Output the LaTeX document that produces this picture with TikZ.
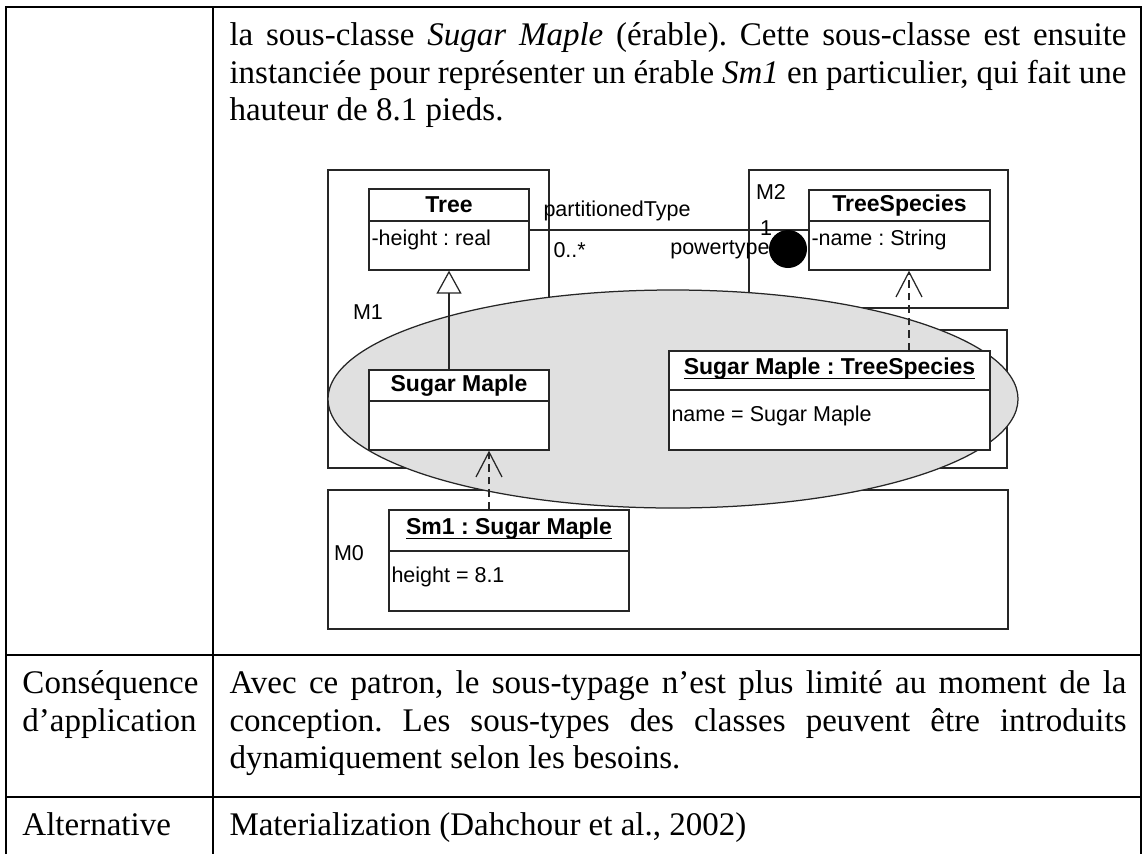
\documentclass[tikz,border=0pt]{standalone}
\usepackage{fontspec}
\setmainfont{Liberation Serif}
\newfontfamily\umlfont{Liberation Sans}
\usetikzlibrary{positioning, arrows.meta, fit}
\frenchspacing

\begin{document}
\begin{tikzpicture}
[
    x=0.4pt, y=-0.4pt,
    table_line/.style={draw=black, line width=0.9pt},
    cell_text/.style={anchor=base west, inner sep=0pt, font=\fontsize{13.2}{15}\selectfont},
    frame_box/.style={draw=black!85, line width=0.5pt},
    uml_box/.style={draw=black!85, fill=white, line width=0.5pt, inner sep=0pt},
    uml_text/.style={inner sep=0pt, font=\umlfont\fontsize{8.6}{10}\selectfont},
    uml_name/.style={inner sep=0pt, font=\umlfont\bfseries\fontsize{9.2}{10}\selectfont},
    uml_line/.style={draw=black!85, line width=0.5pt},
    inst_arrow/.style={uml_line, -{Straight Barb[length=10pt, width=10.4pt]}, dash pattern=on 3pt off 2pt},
]
    \useasboundingbox (0,0) rectangle (1146,854);

    % table
    \draw[table_line] (6,854) -- (6,7) -- (1141,7) -- (1141,854);
    \draw[table_line] (213,7) -- (213,854);
    \draw[table_line] (6,655) -- (1141,655);
    \draw[table_line] (6,797) -- (1141,797);

    \node[cell_text] (desc1) at (229,45.5) {\makebox[358.8pt][s]{la sous-classe \textit{Sugar Maple} (érable). Cette sous-classe est ensuite}};
    \node[cell_text] (desc2) at (229,83) {\makebox[358.8pt][s]{instanciée pour représenter un érable \textit{Sm1} en particulier, qui fait une}};
    \node[cell_text] (desc3) at (229,120.5) {hauteur de 8.1 pieds.};

    \node[cell_text] (csq1) at (22,693.5) {Conséquence};
    \node[cell_text] (csq2) at (22,731) {d’application};
    \node[cell_text] (avec1) at (229,693.5) {\makebox[358.8pt][s]{Avec ce patron, le sous-typage n’est plus limité au moment de la}};
    \node[cell_text] (avec2) at (229,731) {\makebox[358.8pt][s]{conception. Les sous-types des classes peuvent être introduits}};
    \node[cell_text] (avec3) at (229,768.5) {dynamiquement selon les besoins.};

    \node[cell_text] (alt) at (22,835.5) {Alternative};
    \node[cell_text] (mat) at (229,835.5) {Materialization (Dahchour et al., 2002)};

    % levels
    \draw[frame_box] (328,170) -- (549,170) -- (549,330) -- (1007,330) -- (1007,468) -- (328,468) -- cycle;
    \draw[frame_box] (749,170) rectangle (1008,308);
    \draw[frame_box] (328,490) rectangle (1008,629);
    \node[uml_text] (m1) at (368,312) {M1};
    \node[uml_text] (m2) at (771,192) {M2};
    \node[uml_text] (m0) at (349,553) {M0};

    \draw[frame_box, fill=black!12] (673,399) ellipse [x radius=138pt, y radius=43.6pt];

    % classes
    \node[uml_box, fit={(369,189) (529,221)}] (tree) {};
    \node[uml_box, fit={(369,221) (529,270)}] (tree_attr) {};
    \node[uml_name] (tree_t) at (tree.center) {Tree};
    \node[uml_text, anchor=west] (tree_h) at (371,240) {-height : real};

    \node[uml_box, fit={(809,190) (990,221)}] (species) {};
    \node[uml_box, fit={(809,221) (990,270)}] (species_attr) {};
    \node[uml_name] (species_t) at (species.center) {TreeSpecies};
    \node[uml_text, anchor=west] (species_n) at (811,240) {-name : String};

    \node[uml_box, fit={(369,370) (549,401)}] (smaple) {};
    \node[uml_box, fit={(369,401) (549,450)}] (smaple_attr) {};
    \node[uml_name] (smaple_t) at (smaple.center) {Sugar Maple};

    \node[uml_box, fit={(669,351) (990,390)}] (spobj) {};
    \node[uml_box, fit={(669,390) (990,450)}] (spobj_attr) {};
    \node[uml_name, anchor=base] (spobj_t) at ([yshift=-1.6pt]spobj.center) {\underline{\smash{Sugar Maple : TreeSpecies}}};
    \node[uml_text, anchor=west] (spobj_n) at (671,416) {name = Sugar Maple};

    \node[uml_box, fit={(389,510) (629,551)}] (sm1) {};
    \node[uml_box, fit={(389,551) (629,611)}] (sm1_attr) {};
    \node[uml_name, anchor=base] (sm1_t) at ([yshift=-1.6pt]sm1.center) {\underline{\smash{Sm1 : Sugar Maple}}};
    \node[uml_text, anchor=west] (sm1_h) at (391,577) {height = 8.1};

    % association
    \draw[uml_line] ([yshift=6.2pt]tree_attr.east) -- ([yshift=6.2pt]species_attr.west);
    \node[uml_text, anchor=west] (lbl_pt) at (543,211) {partitionedType};
    \node[uml_text, anchor=west] (lbl_mult) at (553,250) {0..*};
    \node[uml_text, anchor=east] (lbl_pw) at (770,250) {powertype};
    \node[uml_text] (lbl_one) at (766,228) {1};
    \node[circle, fill=black, minimum size=15.2pt, inner sep=0pt] (pwr) at (788,249) {};

    % generalization and instances
    \draw[uml_line, -{Triangle[open, length=9.2pt, width=10pt]}] (tree_attr.south |- smaple.north) -- (tree_attr.south);
    \draw[inst_arrow] ([xshift=3.8pt]species_attr.south |- spobj.north) -- ([xshift=3.8pt]species_attr.south);
    \draw[inst_arrow] ([xshift=12pt]smaple_attr.south |- sm1.north) -- ([xshift=12pt]smaple_attr.south);
\end{tikzpicture}
\end{document}
